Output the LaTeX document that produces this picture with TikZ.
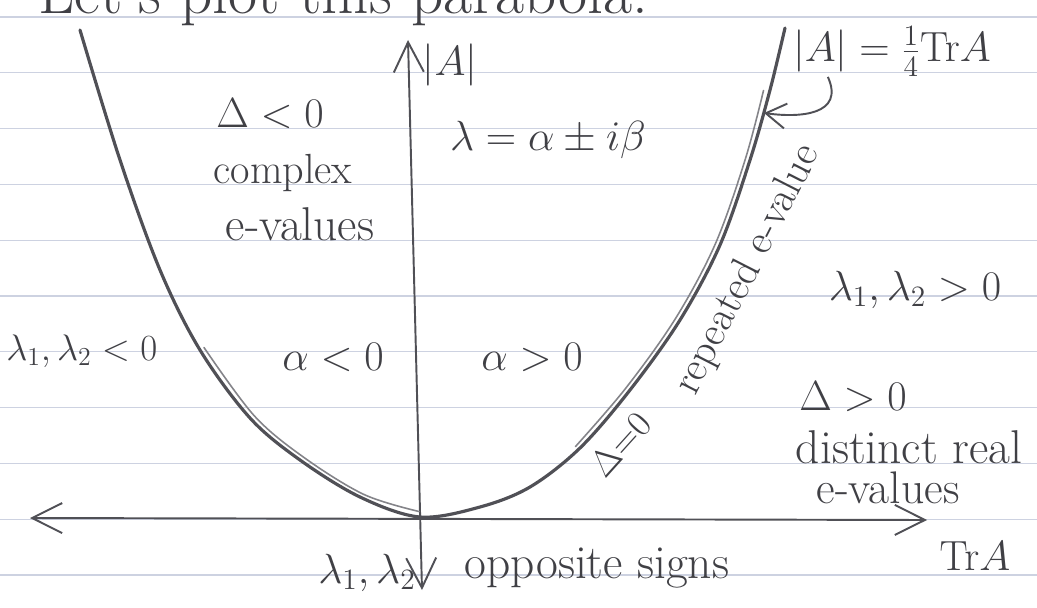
\RequirePackage{fix-cm}
\documentclass[tikz,border=0pt]{standalone}
\usetikzlibrary{arrows.meta}
\definecolor{pencil}{RGB}{80,80,86}
\definecolor{ruled}{RGB}{205,210,225}

\begin{document}
\begin{tikzpicture}[
    x=0.02cm, y=-0.02cm,
    hand/.style={text=pencil!80!black, font=\fontsize{24}{28}\selectfont, inner sep=0pt},
    bighand/.style={hand, font=\fontsize{27}{30}\selectfont},
    axis/.style={draw=pencil, line width=1.1pt, {Straight Barb[length=6mm,width=6mm]}-{Straight Barb[length=6mm,width=6mm]}},
    curve/.style={draw=pencil, line width=1.8pt, line join=round, line cap=round},
    retrace/.style={draw=pencil!70, line width=0.9pt, line cap=round},
    pointer/.style={draw=pencil, line width=1.1pt, -{Straight Barb[length=4mm,width=5mm]}}
]
\clip (0,0) rectangle (1037,608);
\fill[white] (0,0) rectangle (1037,608);
% Linien des Papiers
\foreach \k in {0,...,10}
    \draw[ruled, line width=0.6pt] (0,17+55.8*\k) -- (1037,17+55.8*\k);

\node[hand, font=\fontsize{36}{38}\selectfont, anchor=base west] (title) at (38,14) {Let's plot this parabola:};

% Achsen
\coordinate (xl) at (30,518);
\coordinate (xr) at (927,520);
\coordinate (yt) at (408,40);
\coordinate (yb) at (422,590);
\draw[axis] (xl) -- (xr);
\draw[axis] (yb) -- (yt);

% Parabel
\draw[curve] plot[smooth, tension=0.55] coordinates {(80,30) (120,160) (160,270) (200,350) (250,418) (300,460) (360,497) (420,517) (480,507) (530,487) (580,448) (630,390) (680,320) (720,245) (750,160) (770,90) (785,28)};
\draw[retrace, xshift=0.08cm, yshift=0.05cm] plot[smooth, tension=0.55] coordinates {(200,350) (250,418) (300,460) (360,497) (415,514)};
\draw[retrace, xshift=-0.09cm, yshift=0.03cm] plot[smooth, tension=0.55] coordinates {(580,448) (630,390) (680,320) (720,245) (750,160) (768,92)};
\coordinate (tip) at (764,113);

% Beschriftung
\node[hand, anchor=base] (ylab) at (450,75) {$|A|$};
\node[hand, anchor=base] (dneg) at (270,128) {$\Delta<0$};
\node[hand, anchor=base] (cplx) at (283,183) {complex};
\node[bighand, anchor=base] (ev1) at (300,240) {e-values};
\node[hand, anchor=base] (lam) at (548,150) {$\lambda=\alpha\pm i\beta$};
\node[hand, anchor=base] (det) at (892,62) {$|A|=\frac14\mathrm{Tr}A$};
\node[hand, anchor=base] (pos) at (915,300) {$\lambda_1,\lambda_2>0$};
\node[hand, font=\fontsize{21}{24}\selectfont, anchor=base west] (neg) at (6,360) {$\lambda_1,\lambda_2<0$};
\node[hand, anchor=base] (aneg) at (333,370) {$\alpha<0$};
\node[hand, anchor=base] (apos) at (532,370) {$\alpha>0$};
\node[hand, anchor=base] (dpos) at (853,410) {$\Delta>0$};
\node[bighand, anchor=base] (dist) at (909,463) {distinct real};
\node[hand, font=\fontsize{26}{28}\selectfont, anchor=base] (ev2) at (888,503) {e-values};
\node[hand, anchor=base] (tra) at (975,570) {$\mathrm{Tr}A$};
\node[hand, anchor=base] (lam12) at (367,583) {$\lambda_1,\lambda_2$};
\node[bighand, anchor=base] (opp) at (597,578) {opposite signs};
\node[hand, rotate=63] (rep) at (748,270) {repeated e-value};
\node[hand, font=\fontsize{21}{24}\selectfont, rotate=48] (dzero) at (620,444) {$\Delta{=}0$};

\draw[pointer] ([xshift=0.7cm]det.south west) .. controls (845,115) and (800,118) .. (tip);
\end{tikzpicture}
\end{document}
